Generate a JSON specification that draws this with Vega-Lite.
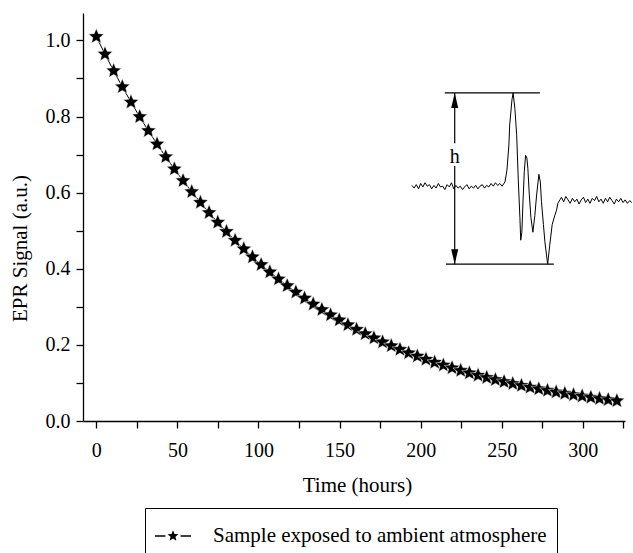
{
  "$schema": "https://vega.github.io/schema/vega-lite/v6.json",
  "width": 542,
  "height": 408,
  "autosize": "none",
  "padding": {"left": 83, "top": 13, "right": 8, "bottom": 132},
  "config": {
    "view": {"stroke": null},
    "font": "Liberation Serif",
    "axis": {
      "domainColor": "black", "domainWidth": 1.3,
      "tickColor": "black", "tickWidth": 1.3, "tickSize": 7,
      "labelColor": "black", "labelFont": "Liberation Serif", "labelFontSize": 20,
      "titleColor": "black", "titleFont": "Liberation Serif", "titleFontSize": 21, "titleFontWeight": "normal",
      "grid": false, "labelOverlap": false, "labelFlush": false
    }
  },
  "datasets": {
    "decay": [
      {"time": 0, "signal": 1.010}, {"time": 5.35, "signal": 0.9640}, {"time": 10.7, "signal": 0.9201},
      {"time": 16.05, "signal": 0.8780}, {"time": 21.4, "signal": 0.8378}, {"time": 26.75, "signal": 0.7994},
      {"time": 32.1, "signal": 0.7627}, {"time": 37.45, "signal": 0.7276}, {"time": 42.8, "signal": 0.6941},
      {"time": 48.15, "signal": 0.6620}, {"time": 53.5, "signal": 0.6314}, {"time": 58.85, "signal": 0.6022},
      {"time": 64.2, "signal": 0.5742}, {"time": 69.55, "signal": 0.5475}, {"time": 74.9, "signal": 0.5220},
      {"time": 80.25, "signal": 0.4976}, {"time": 85.6, "signal": 0.4744}, {"time": 90.95, "signal": 0.4521},
      {"time": 96.3, "signal": 0.4309}, {"time": 101.65, "signal": 0.4107}, {"time": 107, "signal": 0.3914},
      {"time": 112.35, "signal": 0.3729}, {"time": 117.7, "signal": 0.3553}, {"time": 123.05, "signal": 0.3385},
      {"time": 128.4, "signal": 0.3224}, {"time": 133.75, "signal": 0.3071}, {"time": 139.1, "signal": 0.2925},
      {"time": 144.45, "signal": 0.2786}, {"time": 149.8, "signal": 0.2653}, {"time": 155.15, "signal": 0.2526},
      {"time": 160.5, "signal": 0.2405}, {"time": 165.85, "signal": 0.2290}, {"time": 171.2, "signal": 0.2180},
      {"time": 176.55, "signal": 0.2075}, {"time": 181.9, "signal": 0.1975}, {"time": 187.25, "signal": 0.1879},
      {"time": 192.6, "signal": 0.1788}, {"time": 197.95, "signal": 0.1702}, {"time": 203.3, "signal": 0.1619},
      {"time": 208.65, "signal": 0.1540}, {"time": 214, "signal": 0.1465}, {"time": 219.35, "signal": 0.1394},
      {"time": 224.7, "signal": 0.1326}, {"time": 230.05, "signal": 0.1261}, {"time": 235.4, "signal": 0.1199},
      {"time": 240.75, "signal": 0.1140}, {"time": 246.1, "signal": 0.1084}, {"time": 251.45, "signal": 0.1031},
      {"time": 256.8, "signal": 0.0980}, {"time": 262.15, "signal": 0.0931}, {"time": 267.5, "signal": 0.0885},
      {"time": 272.85, "signal": 0.0841}, {"time": 278.2, "signal": 0.0800}, {"time": 283.55, "signal": 0.0760},
      {"time": 288.9, "signal": 0.0722}, {"time": 294.25, "signal": 0.0686}, {"time": 299.6, "signal": 0.0652},
      {"time": 304.95, "signal": 0.0619}, {"time": 310.3, "signal": 0.0588}, {"time": 315.65, "signal": 0.0558},
      {"time": 321, "signal": 0.0530}
    ],
    "spectrum": [
      {"time": 194.6, "signal": 0.619}, {"time": 196.0, "signal": 0.612}, {"time": 197.3, "signal": 0.621},
      {"time": 198.7, "signal": 0.610}, {"time": 200.0, "signal": 0.624}, {"time": 201.4, "signal": 0.615},
      {"time": 202.7, "signal": 0.626}, {"time": 204.1, "signal": 0.617}, {"time": 205.4, "signal": 0.621},
      {"time": 206.8, "signal": 0.610}, {"time": 208.2, "signal": 0.619}, {"time": 209.5, "signal": 0.612},
      {"time": 210.9, "signal": 0.624}, {"time": 212.2, "signal": 0.615}, {"time": 213.6, "signal": 0.617},
      {"time": 214.9, "signal": 0.608}, {"time": 216.3, "signal": 0.621}, {"time": 217.7, "signal": 0.615},
      {"time": 219.0, "signal": 0.626}, {"time": 220.4, "signal": 0.610}, {"time": 221.7, "signal": 0.619},
      {"time": 223.1, "signal": 0.612}, {"time": 224.4, "signal": 0.617}, {"time": 225.8, "signal": 0.608},
      {"time": 227.1, "signal": 0.615}, {"time": 228.5, "signal": 0.621}, {"time": 229.9, "signal": 0.610},
      {"time": 231.2, "signal": 0.617}, {"time": 232.6, "signal": 0.612}, {"time": 233.9, "signal": 0.619},
      {"time": 235.3, "signal": 0.610}, {"time": 236.6, "signal": 0.617}, {"time": 238.0, "signal": 0.621},
      {"time": 239.4, "signal": 0.612}, {"time": 240.7, "signal": 0.619}, {"time": 242.1, "signal": 0.615},
      {"time": 243.4, "signal": 0.624}, {"time": 244.8, "signal": 0.617}, {"time": 246.1, "signal": 0.626},
      {"time": 247.5, "signal": 0.619}, {"time": 248.8, "signal": 0.624}, {"time": 250.2, "signal": 0.617},
      {"time": 252.0, "signal": 0.628}, {"time": 253.2, "signal": 0.659}, {"time": 254.4, "signal": 0.725},
      {"time": 254.9, "signal": 0.778}, {"time": 256.3, "signal": 0.844}, {"time": 257.0, "signal": 0.862},
      {"time": 258.1, "signal": 0.821}, {"time": 259.2, "signal": 0.752}, {"time": 260.2, "signal": 0.633},
      {"time": 261.2, "signal": 0.534}, {"time": 261.7, "signal": 0.475}, {"time": 262.4, "signal": 0.496},
      {"time": 263.1, "signal": 0.576}, {"time": 263.9, "signal": 0.655}, {"time": 264.7, "signal": 0.698},
      {"time": 265.5, "signal": 0.691}, {"time": 266.1, "signal": 0.664}, {"time": 267.0, "signal": 0.594},
      {"time": 268.0, "signal": 0.534}, {"time": 269.2, "signal": 0.496}, {"time": 270.4, "signal": 0.540},
      {"time": 271.5, "signal": 0.594}, {"time": 272.9, "signal": 0.648}, {"time": 273.8, "signal": 0.628},
      {"time": 274.5, "signal": 0.576}, {"time": 275.7, "signal": 0.516}, {"time": 276.6, "signal": 0.471},
      {"time": 278.3, "signal": 0.412}, {"time": 279.6, "signal": 0.462}, {"time": 281.1, "signal": 0.516},
      {"time": 282.7, "signal": 0.540}, {"time": 283.8, "signal": 0.554}, {"time": 284.6, "signal": 0.572},
      {"time": 285.9, "signal": 0.581},
      {"time": 286.8, "signal": 0.588}, {"time": 288.2, "signal": 0.576}, {"time": 289.5, "signal": 0.590},
      {"time": 290.9, "signal": 0.581}, {"time": 292.2, "signal": 0.572}, {"time": 293.6, "signal": 0.585},
      {"time": 295.0, "signal": 0.576}, {"time": 296.3, "signal": 0.583}, {"time": 297.7, "signal": 0.570},
      {"time": 299.0, "signal": 0.581}, {"time": 300.4, "signal": 0.588}, {"time": 301.7, "signal": 0.574},
      {"time": 303.1, "signal": 0.583}, {"time": 304.4, "signal": 0.572}, {"time": 305.8, "signal": 0.585},
      {"time": 307.2, "signal": 0.579}, {"time": 308.5, "signal": 0.590}, {"time": 309.9, "signal": 0.576},
      {"time": 311.2, "signal": 0.583}, {"time": 312.6, "signal": 0.572}, {"time": 313.9, "signal": 0.585},
      {"time": 315.3, "signal": 0.576}, {"time": 316.6, "signal": 0.588}, {"time": 318.0, "signal": 0.579},
      {"time": 319.4, "signal": 0.570}, {"time": 320.7, "signal": 0.583}, {"time": 322.1, "signal": 0.576},
      {"time": 323.4, "signal": 0.585}, {"time": 324.8, "signal": 0.574}, {"time": 326.1, "signal": 0.581},
      {"time": 327.5, "signal": 0.572}, {"time": 328.9, "signal": 0.579}, {"time": 330.2, "signal": 0.574}
    ],
    "guides": [
      {"time": 214.9, "time2": 273.5, "signal": 0.862, "signal2": 0.862},
      {"time": 215.6, "time2": 282.1, "signal": 0.412, "signal2": 0.412},
      {"time": 221.0, "time2": 221.0, "signal": 0.862, "signal2": 0.730},
      {"time": 221.0, "time2": 221.0, "signal": 0.670, "signal2": 0.412}
    ],
    "headUp": [{"time": 221.0, "signal": 0.862}],
    "headDown": [{"time": 221.0, "signal": 0.412}],
    "labels": [
      {"time": 221.0, "signal": 0.693, "text": "h"}
    ]
  },
  "encoding": {
    "x": {
      "field": "time", "type": "quantitative",
      "scale": {"domain": [-8.2, 326], "nice": false, "zero": false},
      "axis": {
        "orient": "bottom",
        "title": "Time (hours)",
        "values": [0, 25, 50, 75, 100, 125, 150, 175, 200, 225, 250, 275, 300, 325],
        "labelExpr": "datum.value % 50 === 0 ? datum.label : ''",
        "encode": {"ticks": {"update": {"y2": {"signal": "datum.value % 50 === 0 ? 7 : 4"}}}},
        "labelPadding": 12,
        "titleX": 274, "titleY": 64, "titleAlign": "center", "titleBaseline": "middle"
      }
    },
    "y": {
      "field": "signal", "type": "quantitative",
      "scale": {"domain": [0, 1.072], "nice": false, "zero": false},
      "axis": {
        "orient": "left",
        "title": "EPR Signal (a.u.)",
        "values": [0, 0.1, 0.2, 0.3, 0.4, 0.5, 0.6, 0.7, 0.8, 0.9, 1.0],
        "format": ".1f",
        "labelExpr": "round(datum.value * 10) % 2 === 0 ? datum.label : ''",
        "encode": {"ticks": {"update": {"x2": {"signal": "round(datum.value * 10) % 2 === 0 ? -7 : -5"}}}},
        "labelPadding": 6,
        "titleX": -63, "titleY": 235, "titleAlign": "center", "titleBaseline": "middle", "titleAngle": -90
      }
    }
  },
  "layer": [
    {"data": {"name": "decay"}, "mark": {"type": "line", "color": "black", "strokeWidth": 1}},
    {
      "data": {"name": "decay"},
      "mark": {
        "type": "point",
        "shape": "M0,-1L0.264,-0.364L0.951,-0.309L0.428,0.139L0.588,0.809L0,0.45L-0.588,0.809L-0.428,0.139L-0.951,-0.309L-0.264,-0.364Z",
        "filled": true, "size": 260, "opacity": 1, "stroke": "white", "strokeWidth": 0.5
      },
      "encoding": {
        "color": {
          "datum": "Sample exposed to ambient atmosphere",
          "type": "nominal",
          "scale": {"range": ["black"]},
          "legend": {
            "title": null,
            "orient": "none",
            "legendX": 62,
            "legendY": 495,
            "symbolType": "M0,-0.32L0.0845,-0.116L0.304,-0.099L0.137,0.044L0.188,0.259L0,0.144L-0.188,0.259L-0.137,0.044L-0.304,-0.099L-0.0845,-0.116Z M-1,-0.045L-0.42,-0.045L-0.42,0.045L-1,0.045Z M0.42,-0.045L1,-0.045L1,0.045L0.42,0.045Z",
            "symbolSize": 1296,
            "symbolStrokeWidth": 0,
            "symbolFillColor": "black",
            "symbolOpacity": 1,
            "labelFont": "Liberation Serif",
            "labelFontSize": 21,
            "labelColor": "black",
            "labelOffset": 22,
            "labelLimit": 600,
            "padding": 10,
            "strokeColor": "black",
            "fillColor": "white"
          }
        }
      }
    },
    {"data": {"name": "spectrum"}, "mark": {"type": "line", "color": "black", "strokeWidth": 1}},
    {
      "data": {"name": "guides"},
      "mark": {"type": "rule", "color": "black", "strokeWidth": 1.2},
      "encoding": {"x2": {"field": "time2"}, "y2": {"field": "signal2"}}
    },
    {
      "data": {"name": "headUp"},
      "mark": {"type": "point", "filled": true, "size": 225, "opacity": 1, "color": "black", "strokeWidth": 0, "shape": "M0,0L0.47,2L-0.47,2Z"}
    },
    {
      "data": {"name": "headDown"},
      "mark": {"type": "point", "filled": true, "size": 225, "opacity": 1, "color": "black", "strokeWidth": 0, "shape": "M0,0L0.47,-2L-0.47,-2Z"}
    },
    {
      "data": {"name": "labels"},
      "mark": {"type": "text", "font": "Liberation Serif", "fontSize": 20, "color": "black", "baseline": "middle", "align": "center"},
      "encoding": {"text": {"field": "text"}}
    }
  ]
}
